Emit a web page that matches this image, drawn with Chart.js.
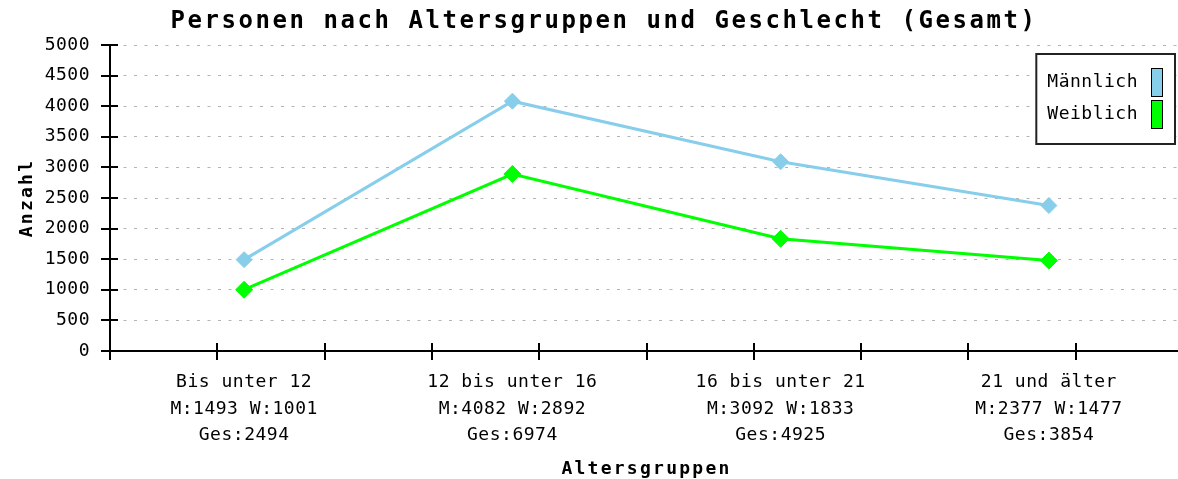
<!DOCTYPE html>
<html><head><meta charset="utf-8">
<script src="https://cdn.jsdelivr.net/npm/chart.js@4"></script>
<style>
html,body{margin:0;padding:0;background:#fff;overflow:hidden;width:1178px;height:479px;}
#wrap{position:relative;width:1190px;height:479px;}
canvas{display:block;}
</style></head><body>
<div id="wrap"><canvas id="c" width="1190" height="479"></canvas></div>
<script>
// ---- data ----
const categories = ['Bis unter 12', '12 bis unter 16', '16 bis unter 21', '21 und älter'];
const maleValues = [1493, 4082, 3092, 2377];
const femaleValues = [1001, 2892, 1833, 1477];
const seriesNames = ['Männlich', 'Weiblich'];
const yMin = 0, yMax = 5000, yStep = 500;
const titleText = 'Personen nach Altersgruppen und Geschlecht (Gesamt)';
const xAxisTitle = 'Altersgruppen';
const yAxisTitle = 'Anzahl';

// tick labels built from the data
const tickLabels = categories.map((c, i) => [
  c,
  'M:' + maleValues[i] + ' W:' + femaleValues[i],
  'Ges:' + (maleValues[i] + femaleValues[i])
]);

// ---- styles ----
const MONO = "'DejaVu Sans Mono', 'Liberation Mono', monospace";
const BLUE = '#87ceeb';
const GREEN = '#00ff00';
const X_TICK_DIVISIONS = 10;

const spacingPlugin = {
  id: 'spacing',
  beforeUpdate(chart) { chart.ctx.letterSpacing = '0.5px'; },
  beforeDraw(chart) {
    chart.ctx.letterSpacing = '0.5px';
    const wrap = (obj, name, sp) => {
      if (!obj || obj['_w_' + name]) return;
      const orig = obj[name];
      obj[name] = function (...a) {
        const c = chart.ctx;
        const p = c.letterSpacing;
        c.letterSpacing = sp;
        const r = orig.apply(this, a);
        c.letterSpacing = p;
        return r;
      };
      obj['_w_' + name] = true;
    };
    wrap(chart.titleBlock, 'draw', '2.55px');
    wrap(chart.scales.x, 'drawTitle', '2.25px');
    wrap(chart.scales.y, 'drawTitle', '2.25px');
  }
};

const tickMarkPlugin = {
  id: 'tickMarks',
  afterDraw(chart) {
    const {ctx, chartArea, scales} = chart;
    ctx.save();
    ctx.strokeStyle = '#000';
    ctx.lineWidth = 2;
    ctx.beginPath();
    scales.y.ticks.forEach(t => {
      const py = Math.round(scales.y.getPixelForValue(t.value));
      ctx.moveTo(chartArea.left - 9, py);
      ctx.lineTo(chartArea.left + 8, py);
    });
    for (let k = 0; k <= X_TICK_DIVISIONS; k++) {
      const px = Math.round(scales.x.getPixelForDecimal(k / X_TICK_DIVISIONS));
      ctx.moveTo(px, chartArea.bottom - 8);
      ctx.lineTo(px, chartArea.bottom + 9);
    }
    ctx.stroke();
    ctx.restore();
  }
};

const boxLegendPlugin = {
  id: 'boxLegend',
  afterDraw(chart) {
    const {ctx, chartArea} = chart;
    const ds = chart.data.datasets;
    ctx.save();
    ctx.letterSpacing = '0.5px';
    ctx.font = '18px ' + MONO;
    const textW = Math.max(...ds.map(d => ctx.measureText(d.label).width));
    const padL = 11, gap = 13, swW = 12, swH = 29, swGap = 3, padR = 12, padT = 14, padB = 15;
    const w = padL + textW + gap + swW + padR;
    const h = padT + ds.length * swH + (ds.length - 1) * swGap + padB;
    const right = chartArea.right - 8;
    const top = chartArea.top + 9;
    const left = right - w;
    ctx.fillStyle = '#fff';
    ctx.fillRect(left, top, w, h);
    ctx.strokeStyle = '#222';
    ctx.lineWidth = 2;
    ctx.strokeRect(left, top, w, h);
    ds.forEach((d, i) => {
      const sy = top + padT + i * (swH + swGap);
      const sx = right - padR - swW;
      ctx.fillStyle = d.borderColor;
      ctx.fillRect(sx, sy, swW, swH);
      ctx.lineWidth = 1;
      ctx.strokeStyle = '#000';
      ctx.strokeRect(sx + 0.5, sy + 0.5, swW - 1, swH - 1);
      ctx.fillStyle = '#000';
      ctx.textAlign = 'left';
      ctx.textBaseline = 'middle';
      ctx.fillText(d.label, left + padL, sy + swH / 2);
    });
    ctx.restore();
  }
};

new Chart(document.getElementById('c'), {
  type: 'line',
  data: {
    labels: tickLabels,
    datasets: [
      {
        label: seriesNames[0], data: maleValues,
        borderColor: BLUE, backgroundColor: BLUE, borderWidth: 3,
        pointStyle: 'rectRot', pointRadius: 8, pointBorderWidth: 1,
        pointBackgroundColor: BLUE, pointBorderColor: BLUE, tension: 0, fill: false
      },
      {
        label: seriesNames[1], data: femaleValues,
        borderColor: GREEN, backgroundColor: GREEN, borderWidth: 3,
        pointStyle: 'rectRot', pointRadius: 8.5, pointBorderWidth: 1,
        pointBackgroundColor: GREEN, pointBorderColor: GREEN, tension: 0, fill: false
      }
    ]
  },
  options: {
    responsive: false,
    animation: false,
    devicePixelRatio: 1,
    events: [],
    layout: {autoPadding: false, padding: {left: 25, right: 7, top: 0, bottom: 0}},
    plugins: {
      legend: {display: false},
      tooltip: {enabled: false},
      title: {
        display: true, text: titleText, color: '#000',
        font: {family: MONO, size: 24, weight: 'bold', lineHeight: '28px'},
        padding: {top: 8, bottom: 9}
      }
    },
    scales: {
      x: {
        type: 'category', offset: true,
        grid: {display: false, drawTicks: false},
        border: {display: true, color: '#000', width: 2},
        ticks: {color: '#000', font: {family: MONO, size: 18, lineHeight: 1.47}, padding: 18.5, maxRotation: 0, autoSkip: false},
        title: {display: true, text: xAxisTitle, color: '#000', font: {family: MONO, size: 18, weight: 'bold', lineHeight: '20px'}, padding: 0},
        afterFit(s) { s.height = 128; s.paddingLeft = 0; s.paddingRight = 0; }
      },
      y: {
        min: yMin, max: yMax,
        ticks: {stepSize: yStep, color: '#000', font: {family: MONO, size: 18}, padding: 20, callback: v => String(v)},
        grid: {color: '#b4b4b4', lineWidth: 1, drawTicks: false},
        border: {display: true, color: '#000', width: 2, dash: [3, 7.5], dashOffset: -2},
        title: {display: true, text: yAxisTitle, color: '#000', font: {family: MONO, size: 18, weight: 'bold', lineHeight: '4px'}, padding: 0},
        afterFit(s) { s.width = 85; }
      }
    }
  },
  plugins: [spacingPlugin, tickMarkPlugin, boxLegendPlugin]
});
</script>
</body></html>
